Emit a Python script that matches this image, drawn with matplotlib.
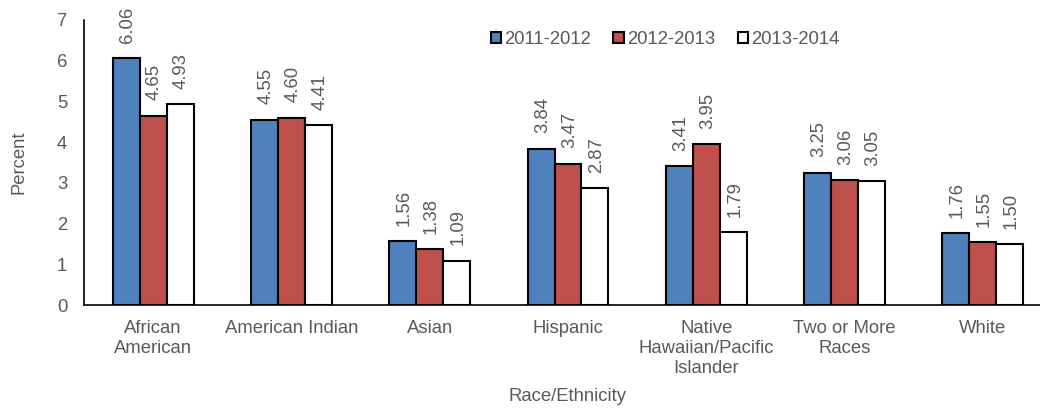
import numpy as np
import matplotlib
matplotlib.use("Agg")
import matplotlib.pyplot as plt

plt.rcParams['font.family'] = ['Liberation Sans', 'DejaVu Sans']

# categorias e valores
categorias = ["African\nAmerican", "American Indian", "Asian", "Hispanic",
              "Native\nHawaiian/Pacific\nIslander", "Two or More\nRaces", "White"]
anos = ["2011-2012", "2012-2013", "2013-2014"]
v_2011 = [6.06, 4.55, 1.56, 3.84, 3.41, 3.25, 1.76]
v_2012 = [4.65, 4.60, 1.38, 3.47, 3.95, 3.06, 1.55]
v_2013 = [4.93, 4.41, 1.09, 2.87, 1.79, 3.05, 1.50]
cores = ["#4F81BD", "#C0504D", "#FFFFFF"]

cinza = "#595959"
fs = 13.3

fig = plt.figure(figsize=(10.4, 4.08), dpi=100)
ax = fig.add_axes([84 / 1040, 103 / 408, 968 / 1040, 285 / 408])

x = np.arange(len(categorias))
largura = 0.195
series = [v_2011, v_2012, v_2013]
for i, (vals, cor, nome) in enumerate(zip(series, cores, anos)):
    pos = x + (i - 1) * largura
    ax.bar(pos, vals, largura, color=cor, edgecolor="black", linewidth=1.5, label=nome)
    for px, v in zip(pos, vals):
        ax.annotate(f"{v:.2f}", (px, v), xytext=(1, 11), textcoords="offset points",
                    rotation=90, ha="center", va="bottom", fontsize=fs, color=cinza)

ax.set_xlim(-0.5, len(categorias) - 0.5)
ax.set_ylim(0, 7)
ax.set_yticks(range(0, 8))
ax.set_xticks(x)
ax.set_xticklabels(categorias, fontsize=fs, color=cinza, linespacing=1.22)
ax.tick_params(axis="y", labelsize=fs, labelcolor=cinza, length=0, pad=12)
ax.tick_params(axis="x", length=0, pad=11)

for lado in ["top", "right"]:
    ax.spines[lado].set_visible(False)
ax.spines["left"].set_linewidth(1.2)
ax.spines["bottom"].set_linewidth(1.2)

ax.set_ylabel("Percent", fontsize=fs, color=cinza)
ax.yaxis.set_label_coords(-(84 - 28) / 968, 0.5)
ax.set_xlabel("Race/Ethnicity", fontsize=fs, color=cinza)
ax.xaxis.set_label_coords((568 - 84) / 968, -0.29)

leg = ax.legend(loc="upper left", bbox_to_anchor=((474 - 84) / 968, 1.02), ncol=3,
                frameon=False, fontsize=fs, handlelength=0.55, handleheight=0.55,
                handletextpad=0.2, columnspacing=1.2)
for t in leg.get_texts():
    t.set_color(cinza)

fig.savefig("out.png", dpi=100)
